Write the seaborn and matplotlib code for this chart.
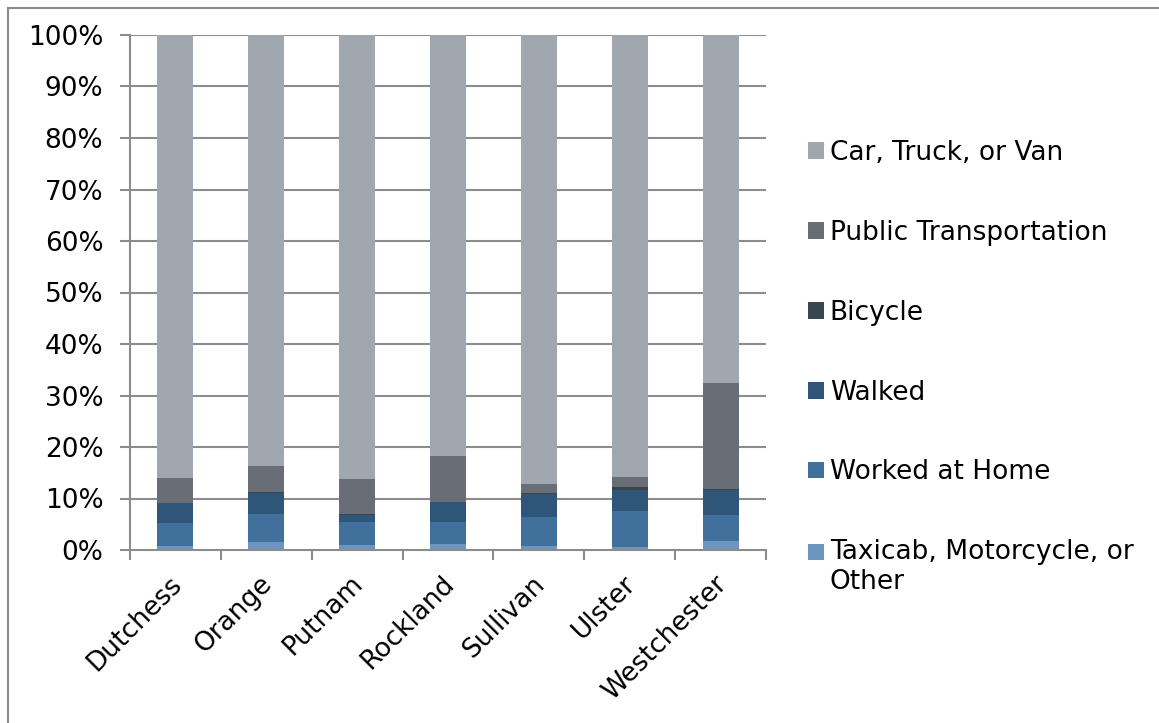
import numpy as np
import pandas as pd
import matplotlib
matplotlib.use("Agg")
import matplotlib.pyplot as plt
import matplotlib.patches as mpatches
import matplotlib.transforms as mtransforms
from matplotlib.legend_handler import HandlerPatch
import seaborn as sns

counties = ["Dutchess", "Orange", "Putnam", "Rockland", "Sullivan", "Ulster", "Westchester"]
taxi = [0.7, 1.5, 0.9, 1.2, 0.7, 0.5, 1.7]
worked_home = [4.6, 5.4, 4.5, 4.3, 5.8, 7.0, 5.0]
walked = [3.8, 4.2, 1.4, 3.8, 4.3, 4.2, 5.0]
bicycle = [0.1, 0.1, 0.1, 0.1, 0.3, 0.6, 0.1]
public = [4.8, 5.2, 6.9, 8.9, 1.7, 1.9, 20.7]
car = [86.0, 83.6, 86.2, 81.7, 87.2, 85.8, 67.5]

modes = ["Taxicab, Motorcycle, or\nOther", "Worked at Home", "Walked", "Bicycle",
         "Public Transportation", "Car, Truck, or Van"]
series = [taxi, worked_home, walked, bicycle, public, car]
colors = ["#6E95BE", "#42709C", "#2F5678", "#37454F", "#696D75", "#A0A7AE"]

sns.set_theme(style="white")
plt.rcParams['font.family'] = ['DejaVu Sans']
plt.rcParams['text.color'] = 'black'
plt.rcParams['xtick.color'] = 'black'
plt.rcParams['ytick.color'] = 'black'

FS = 19
fig = plt.figure(figsize=(11.59, 7.23), dpi=100)
ax = fig.add_axes([130/1159, 1-550/723, (766-130)/1159, (550-35)/723])

vals = np.array(series, dtype=float)
tot = vals.sum(axis=0)
pct = vals / tot * 100
cum = np.cumsum(pct, axis=0)

grid_c = "#8C8C8C"
for y in range(10, 101, 10):
    ax.axhline(y, color=grid_c, lw=1.5, zorder=0)

for i in range(len(modes) - 1, -1, -1):
    df = pd.DataFrame({"county": counties, "value": cum[i]})
    sns.barplot(data=df, x="county", y="value", color=colors[i], saturation=1,
                width=0.396, ax=ax, zorder=2, edgecolor="none", linewidth=0)

ax.set_ylim(0, 100)
ax.set_xlim(-0.5, len(counties) - 0.5)
ax.set_yticks(np.arange(0, 101, 10))
ax.set_yticklabels([f"{v}%" for v in range(0, 101, 10)], fontsize=FS, color="black")
ax.set_xlabel("")
ax.set_ylabel("")
for s in ["top", "right"]:
    ax.spines[s].set_visible(False)
for s in ["left", "bottom"]:
    ax.spines[s].set_color(grid_c)
    ax.spines[s].set_linewidth(1.5)
    ax.spines[s].set_zorder(3)
ax.tick_params(axis="y", which="major", length=7.2, width=1.5, color=grid_c, left=True, pad=12,
               labelcolor="black")
ax.set_xticks(np.arange(-0.5, len(counties), 1.0), minor=True)
ax.tick_params(axis="x", which="minor", length=7.2, width=1.5, color=grid_c, bottom=True)
ax.tick_params(axis="x", which="major", length=0, pad=15, labelcolor="black")
ax.set_xticks(range(len(counties)))
offset = mtransforms.ScaledTranslation(-7/100, 0, fig.dpi_scale_trans)
ax.set_xticklabels(counties, rotation=45, ha="right", va="top", rotation_mode="anchor", fontsize=FS)
for lbl in ax.get_xticklabels():
    lbl.set_transform(lbl.get_transform() + offset)


class FirstLineHandler(HandlerPatch):
    def __init__(self, shift_em=0.0):
        super().__init__()
        self.shift_em = shift_em

    def create_artists(self, legend, orig_handle, xdescent, ydescent, width, height, fontsize, trans):
        p = mpatches.Rectangle((-xdescent, -ydescent + self.shift_em * fontsize), width, height,
                               facecolor=orig_handle.get_facecolor(), edgecolor="none",
                               transform=trans)
        return [p]


handles = [mpatches.Patch(facecolor=c, edgecolor="none") for c in colors[::-1]]
hmap = {h: FirstLineHandler(0.0) for h in handles}
hmap[handles[-1]] = FirstLineHandler(0.6)
leg = fig.legend(handles, modes[::-1], loc="upper left", bbox_to_anchor=(808/1159, 1-140/723),
                 frameon=False, fontsize=FS, handlelength=0.6, handleheight=0.6,
                 handletextpad=0.22, labelspacing=2.04, borderpad=0, borderaxespad=0,
                 handler_map=hmap)

border = mpatches.Rectangle((8/1159, -0.1), 1.2, 1 - 8/723 + 0.1, transform=fig.transFigure,
                            fill=False, edgecolor="#8C8C8C", lw=1.5)
fig.patches.append(border)

fig.savefig("out.png", dpi=100)
